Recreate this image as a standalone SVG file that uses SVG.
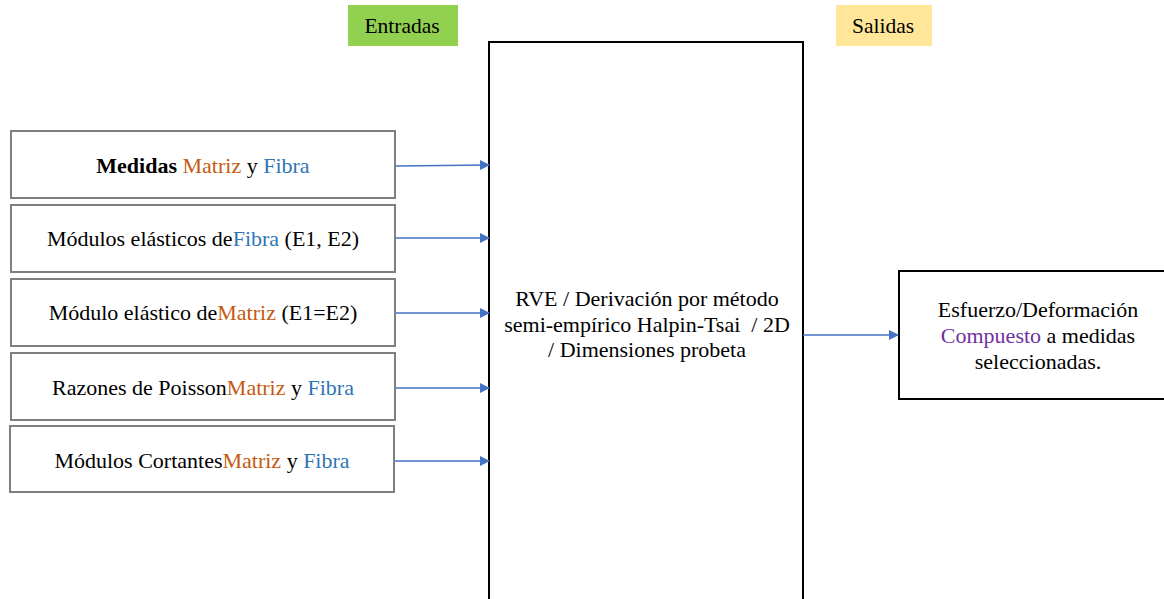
<svg xmlns="http://www.w3.org/2000/svg" width="1164" height="599" viewBox="0 0 1164 599" font-family="Liberation Serif, Tinos, DejaVu Serif, serif">
  <style>
    text { font-family: 'Liberation Serif', 'Tinos', 'DejaVu Serif', serif; font-size: 22px; fill: #000; }
    .tag { font-size: 21.5px; }
    .in { fill: #fff; stroke: #7f7f7f; stroke-width: 2; }
    .blk { fill: #fff; stroke: #000; stroke-width: 2; }
    .org { fill: #C55A11; }
    .blu { fill: #2E75B6; }
    .pur { fill: #7030A0; }
    .conn { stroke: #4472C4; stroke-width: 1.3; fill: none; marker-end: url(#arr); }
  </style>
  <defs>
    <marker id="arr" markerWidth="10" markerHeight="10" refX="9" refY="5" orient="auto" markerUnits="userSpaceOnUse">
      <path d="M0,0 L10,5 L0,10 Z" fill="#4472C4"/>
    </marker>
  </defs>

  <!-- header tags -->
  <g id="entradas">
    <rect x="348" y="5" width="110" height="41" fill="#92D050"/>
    <text class="tag" x="402" y="33" text-anchor="middle">Entradas</text>
  </g>
  <g id="salidas">
    <rect x="836" y="5" width="96" height="41" fill="#FFE699"/>
    <text class="tag" x="883" y="33" text-anchor="middle">Salidas</text>
  </g>

  <!-- central process block (runs off the bottom edge) -->
  <g id="proceso">
    <path class="blk" d="M489,610 L489,42 L803,42 L803,610"/>
    <text x="647" y="306" text-anchor="middle">RVE / Derivación por método</text>
    <text x="647" y="332" text-anchor="middle">semi-empírico Halpin-Tsai &#160;/ 2D</text>
    <text x="647" y="357" text-anchor="middle">/ Dimensiones probeta</text>
  </g>

  <!-- inputs -->
  <g id="medidas">
    <rect class="in" x="11" y="131" width="384" height="67"/>
    <text x="203" y="173" text-anchor="middle"><tspan font-weight="bold">Medidas</tspan> <tspan class="org">Matriz</tspan> y <tspan class="blu">Fibra</tspan></text>
  </g>
  <g id="modulos-fibra">
    <rect class="in" x="11" y="205" width="384" height="67"/>
    <text x="203" y="246" text-anchor="middle">Módulos elásticos de<tspan class="blu">Fibra</tspan> (E1, E2)</text>
  </g>
  <g id="modulo-matriz">
    <rect class="in" x="11" y="279" width="384" height="67"/>
    <text x="203" y="320" text-anchor="middle">Módulo elástico de<tspan class="org">Matriz</tspan> (E1=E2)</text>
  </g>
  <g id="poisson">
    <rect class="in" x="11" y="353" width="384" height="67"/>
    <text x="203" y="395" text-anchor="middle">Razones de Poisson<tspan class="org">Matriz</tspan> y <tspan class="blu">Fibra</tspan></text>
  </g>
  <g id="cortantes">
    <rect class="in" x="10" y="426" width="384" height="66"/>
    <text x="202" y="468" text-anchor="middle">Módulos Cortantes<tspan class="org">Matriz</tspan> y <tspan class="blu">Fibra</tspan></text>
  </g>

  <!-- output -->
  <g id="salida">
    <rect class="blk" x="899" y="271" width="270" height="128" stroke-width="1.5"/>
    <text x="1038" y="317" text-anchor="middle">Esfuerzo/Deformación</text>
    <text x="1038" y="343" text-anchor="middle"><tspan class="pur">Compuesto</tspan> a medidas</text>
    <text x="1038" y="369" text-anchor="middle">seleccionadas.</text>
  </g>

  <!-- connectors -->
  <g id="connectors">
    <line class="conn" x1="396" y1="166" x2="489" y2="165"/>
    <line class="conn" x1="396" y1="238" x2="489" y2="238"/>
    <line class="conn" x1="396" y1="313" x2="489" y2="313"/>
    <line class="conn" x1="396" y1="388" x2="489" y2="388"/>
    <line class="conn" x1="395" y1="461" x2="489" y2="461"/>
    <line class="conn" x1="803" y1="335" x2="898" y2="335"/>
  </g>
</svg>
